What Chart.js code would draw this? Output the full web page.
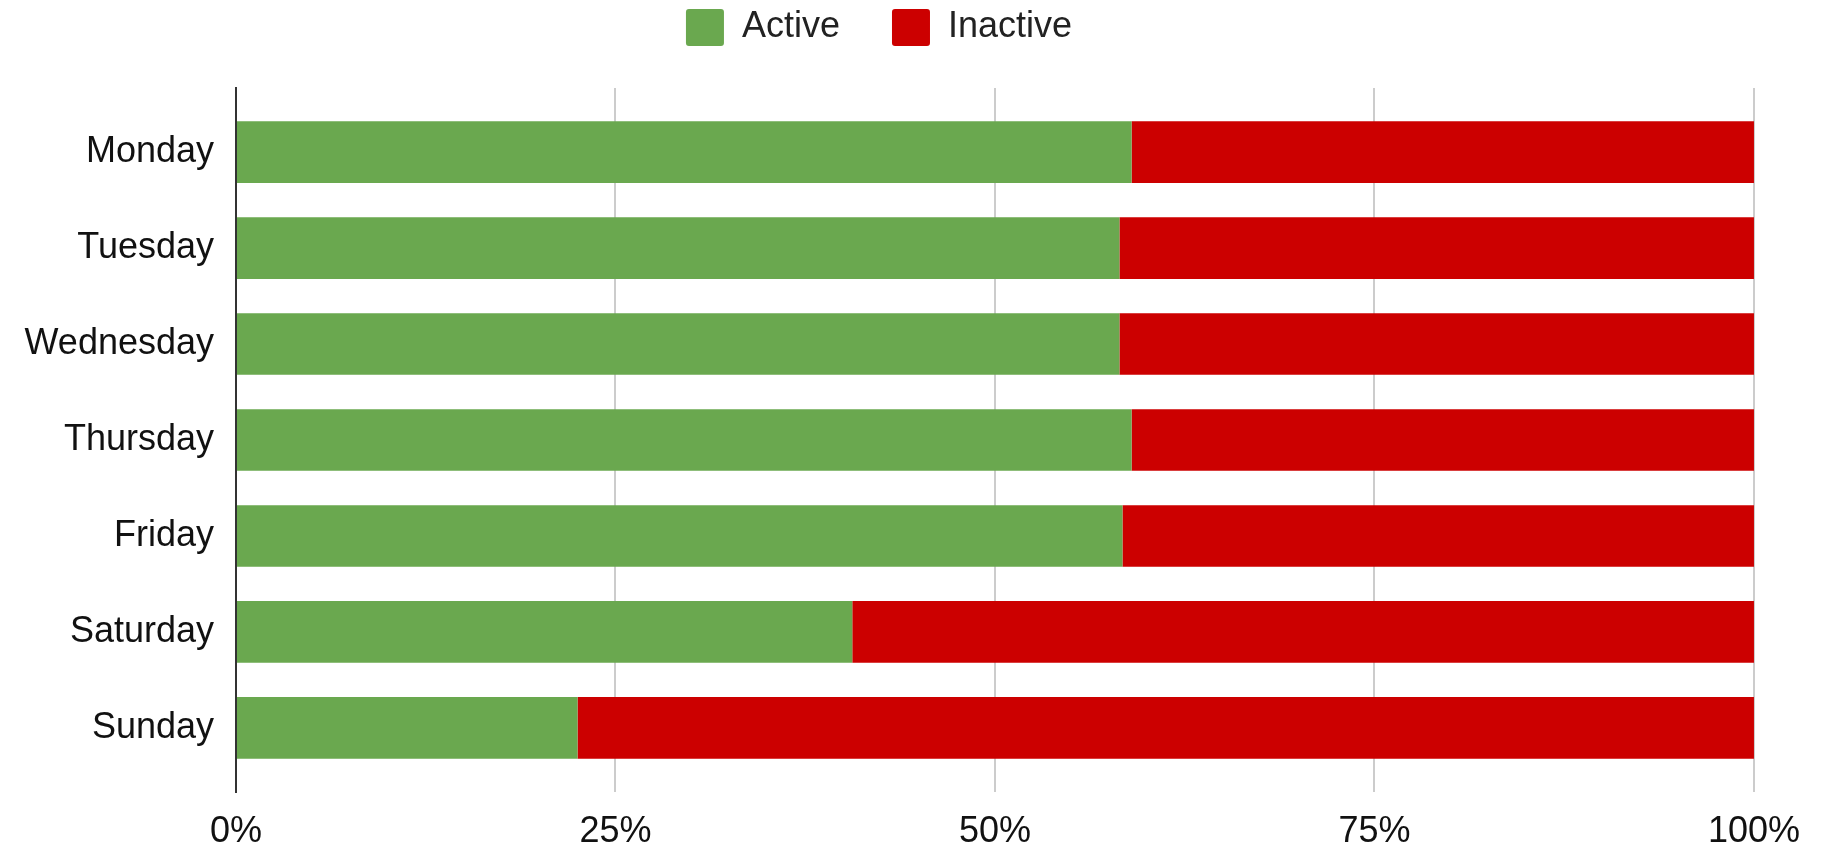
<!DOCTYPE html>
<html lang="en">

<head>
    <meta charset="utf-8">
    <title>Active x Inactive</title>
    <script src="https://cdn.jsdelivr.net/npm/chart.js"></script>
    <style>
        body {
            margin: 0;
            background: #fff;
        }

        .grafico {
            width: 1822px;
            height: 850px;
        }
    </style>
</head>

<body>

    <div class="grafico">
        <canvas id="myChart"></canvas>
    </div>

    <script>
        const days = ['Monday', 'Tuesday', 'Wednesday', 'Thursday', 'Friday', 'Saturday', 'Sunday'];
        const active = [59.0, 58.2, 58.2, 59.0, 58.4, 40.6, 22.5];
        const inactive = [41.0, 41.8, 41.8, 41.0, 41.6, 59.4, 77.5];
        const xTicks = ['0%', '25%', '50%', '75%', '100%'];

        const fonte = 'Arial, "Liberation Sans", sans-serif';

        // empurra o grafico pra baixo da legenda
        const legendSpace = {
            id: 'legendSpace',
            beforeInit(chart) {
                const fitOriginal = chart.legend.fit;
                chart.legend.fit = function () {
                    fitOriginal.bind(chart.legend)();
                    this.height += 32;
                };
            }
        };

        const data = {
            datasets: [{
                label: 'Active',
                data: active.map((v, i) => ({ x: v, y: i })),
                backgroundColor: '#6aa84f',
                borderWidth: 0,
                categoryPercentage: 1,
                barPercentage: 0.643
            }, {
                label: 'Inactive',
                data: inactive.map((v, i) => ({ x: v, y: i })),
                backgroundColor: '#cc0000',
                borderWidth: 0,
                categoryPercentage: 1,
                barPercentage: 0.643
            }]
        };

        const config = {
            type: 'bar',
            data: data,
            plugins: [legendSpace],
            options: {
                indexAxis: 'y',
                responsive: true,
                maintainAspectRatio: false,
                animation: false,
                layout: {
                    padding: { top: -43, right: 64, bottom: 0, left: 0 }
                },
                plugins: {
                    legend: {
                        position: 'top',
                        labels: {
                            boxWidth: 38,
                            boxHeight: 37,
                            padding: 52,
                            useBorderRadius: true,
                            borderRadius: 3,
                            color: '#222',
                            font: { family: fonte, size: 36 }
                        }
                    },
                    tooltip: { enabled: false }
                },
                scales: {
                    x: {
                        stacked: true,
                        min: 0,
                        max: 100,
                        afterFit: (s) => { s.height = 58; },
                        ticks: {
                            stepSize: 25,
                            padding: 22,
                            color: '#111',
                            font: { family: fonte, size: 36, lineHeight: 1 },
                            callback: (v, i) => xTicks[i]
                        },
                        grid: {
                            drawTicks: false,
                            lineWidth: 2,
                            color: (ctx) => ctx.index === 0 ? '#333' : '#cccccc'
                        },
                        border: { display: false }
                    },
                    y: {
                        type: 'linear',
                        stacked: true,
                        reverse: true,
                        offset: false,
                        min: -0.667,
                        max: 6.667,
                        afterFit: (s) => { s.width = 236; },
                        afterBuildTicks: (s) => {
                            s.ticks = days.map((d, i) => ({ value: i }));
                        },
                        ticks: {
                            autoSkip: false,
                            padding: 22,
                            color: '#111',
                            font: { family: fonte, size: 36 },
                            callback: (v) => days[v]
                        },
                        grid: { display: false, drawTicks: false, offset: false },
                        border: { display: true, color: '#333', width: 2 }
                    }
                }
            }
        };

        const myBarChart = new Chart(
            document.getElementById('myChart'),
            config
        );
    </script>

</body>

</html>
